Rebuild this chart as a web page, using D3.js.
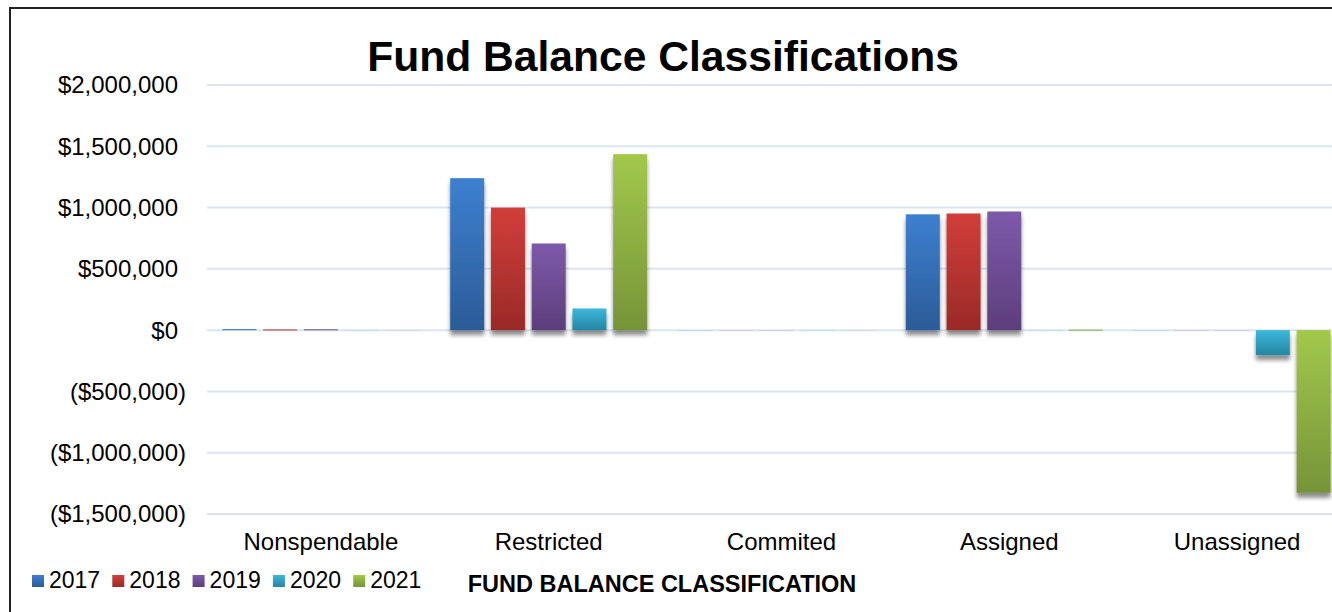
<!DOCTYPE html>
<html>
<head>
<meta charset="utf-8">
<script src="https://cdn.jsdelivr.net/npm/d3@7"></script>
<style>
  html, body { margin: 0; padding: 0; overflow: hidden; background: #fff; }
  text { font-family: "Liberation Sans", Arial, sans-serif; fill: #000; }
</style>
</head>
<body>
<div id="chart"></div>
<script>
// categorias y series
var categories = ["Nonspendable", "Restricted", "Commited", "Assigned", "Unassigned"];
var years = ["2017", "2018", "2019", "2020", "2021"];
var values2017 = [8000, 1240000, 0, 945000, 0];
var values2018 = [6000, 1000000, 0, 952000, 0];
var values2019 = [7000, 707000, 0, 968000, 0];
var values2020 = [0, 177000, 0, 0, -204000];
var values2021 = [0, 1436000, 0, 5000, -1327000];
var yTicks = [-1500000, -1000000, -500000, 0, 500000, 1000000, 1500000, 2000000];

var seriesColors = {
    "2017": ["#3d80d0", "#2b5c98"],
    "2018": ["#d23e3a", "#9a2a27"],
    "2019": ["#7e5aaa", "#5d3e7c"],
    "2020": ["#3cb8dc", "#2486a3"],
    "2021": ["#a2c84b", "#759438"]
};

var series = [values2017, values2018, values2019, values2020, values2021];
var rows = [];
categories.forEach(function (c, i) {
    years.forEach(function (y, j) {
        rows.push({ cat: c, year: y, value: series[j][i] });
    });
});

var width = 1332, height = 612;

var svg = d3.select("#chart").append("svg")
    .attr("width", width)
    .attr("height", height);

var defs = svg.append("defs");

years.forEach(function (y) {
    var g = defs.append("linearGradient")
        .attr("id", "grad" + y)
        .attr("x1", 0).attr("y1", 0).attr("x2", 0).attr("y2", 1);
    g.append("stop").attr("offset", "0%").attr("stop-color", seriesColors[y][0]);
    g.append("stop").attr("offset", "100%").attr("stop-color", seriesColors[y][1]);
});

var shadow = defs.append("filter").attr("id", "sombra")
    .attr("x", "-20%").attr("y", "-20%").attr("width", "140%").attr("height", "160%");
shadow.append("feGaussianBlur").attr("in", "SourceAlpha").attr("stdDeviation", 2.2).attr("result", "blur");
shadow.append("feOffset").attr("in", "blur").attr("dx", 0).attr("dy", 5).attr("result", "off");
shadow.append("feComponentTransfer").attr("in", "off").attr("result", "soft")
    .append("feFuncA").attr("type", "linear").attr("slope", 0.45);
var merge = shadow.append("feMerge");
merge.append("feMergeNode").attr("in", "soft");
merge.append("feMergeNode").attr("in", "SourceGraphic");

// borde
svg.append("rect")
    .attr("x", 10).attr("y", 8)
    .attr("width", width + 40).attr("height", height + 40)
    .attr("fill", "none").attr("stroke", "#222").attr("stroke-width", 2);

var x0 = d3.scaleBand()
    .domain(categories)
    .range([207, 1346])
    .paddingInner(0.1352)
    .paddingOuter(0.0676);

var x1 = d3.scaleBand()
    .domain(years)
    .range([0, x0.bandwidth()])
    .paddingInner(0.165);

var y = d3.scaleLinear()
    .domain([-1500000, 2000000])
    .range([514, 85]);

// grilla
svg.append("g").selectAll("line")
    .data(yTicks)
    .enter().append("line")
    .attr("x1", 207).attr("x2", width + 20)
    .attr("y1", function (d) { return y(d); })
    .attr("y2", function (d) { return y(d); })
    .attr("stroke", "#dbe5f1").attr("stroke-width", 2);

var money = d3.format(",.0f");
svg.append("g").selectAll("text")
    .data(yTicks)
    .enter().append("text")
    .attr("x", function (d) { return d < 0 ? 186 : 178; })
    .attr("y", function (d) { return y(d); })
    .attr("dy", "0.35em")
    .style("text-anchor", "end")
    .style("font-size", "24px")
    .text(function (d) {
        return d < 0 ? "($" + money(-d) + ")" : "$" + money(d);
    });

// barras
svg.append("g").selectAll("rect")
    .data(rows)
    .enter().append("rect")
    .attr("x", function (d) { return x0(d.cat) + x1(d.year); })
    .attr("width", x1.bandwidth())
    .attr("y", function (d) { return d.value >= 0 ? y(d.value) : y(0); })
    .attr("height", function (d) { return Math.max(1, Math.abs(y(d.value) - y(0))); })
    .attr("fill", function (d) { return "url(#grad" + d.year + ")"; })
    .attr("fill-opacity", function (d) { return d.value === 0 ? 0.15 : 1; })
    .attr("filter", "url(#sombra)");

// etiquetas categorias
svg.append("g").selectAll("text")
    .data(categories)
    .enter().append("text")
    .attr("x", function (d, i) { return x0(d) + x0.bandwidth() / 2 + (i > 1 ? 5 : 0); })
    .attr("y", 550)
    .style("text-anchor", "middle")
    .style("font-size", "24px")
    .text(function (d) { return d; });

// titulo
svg.append("text")
    .attr("x", 663).attr("y", 71)
    .style("text-anchor", "middle")
    .style("font-size", "42.6px")
    .style("font-weight", "bold")
    .text("Fund Balance Classifications");

svg.append("text")
    .attr("x", 662).attr("y", 592)
    .style("text-anchor", "middle")
    .style("font-size", "23.5px")
    .style("font-weight", "bold")
    .text("FUND BALANCE CLASSIFICATION");

// leyenda
var legend = svg.append("g").selectAll("g")
    .data(years)
    .enter().append("g")
    .attr("transform", function (d, i) { return "translate(" + (32 + i * 80.3) + ",575)"; });

legend.append("rect")
    .attr("width", 12).attr("height", 12)
    .attr("fill", function (d) { return "url(#grad" + d + ")"; });

legend.append("text")
    .attr("x", 17).attr("y", 13)
    .style("font-size", "23px")
    .text(function (d) { return d; });
</script>
</body>
</html>
